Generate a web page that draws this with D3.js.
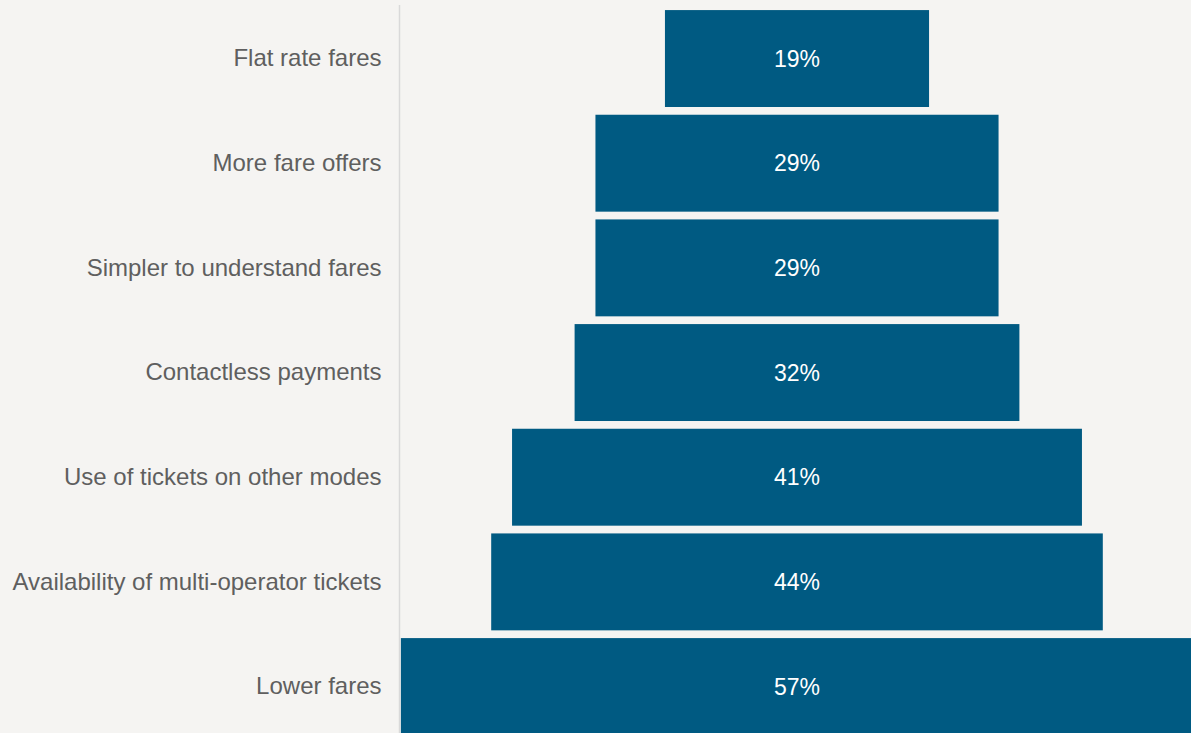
<!DOCTYPE html>
<html>
<head>
<meta charset="utf-8">
<script src="https://cdn.jsdelivr.net/npm/d3@7"></script>
<style>
  html, body { margin: 0; padding: 0; background: #f5f4f2; }
  svg { display: block; }
</style>
</head>
<body>
<svg id="chart" width="1191" height="733"></svg>
<script>
const categories = [
  "Flat rate fares",
  "More fare offers",
  "Simpler to understand fares",
  "Contactless payments",
  "Use of tickets on other modes",
  "Availability of multi-operator tickets",
  "Lower fares"
];
const values = [19, 29, 29, 32, 41, 44, 57];
const valueLabels = ["19%", "29%", "29%", "32%", "41%", "44%", "57%"];

const W = 1191, H = 733;
const svg = d3.select("#chart");
svg.append("rect").attr("width", W).attr("height", H).attr("fill", "#f5f4f2");

const centerX = 797;
const axisX = 399.5;

const y = d3.scaleBand()
  .domain(categories)
  .range([6.2, 6.2 + 7 * 104.67])
  .paddingInner(0.074)
  .paddingOuter(0.037);

const w = d3.scaleLinear().domain([0, 1]).range([0, 13.9]);

const data = categories.map((c, i) => ({ c, v: values[i], l: valueLabels[i] }));

svg.append("g").selectAll("rect").data(data).join("rect")
  .attr("x", d => centerX - w(d.v) / 2)
  .attr("y", d => y(d.c))
  .attr("width", d => w(d.v))
  .attr("height", y.bandwidth())
  .attr("fill", "#005a82");

svg.append("g").selectAll("text").data(data).join("text")
  .attr("x", centerX)
  .attr("y", d => y(d.c) + y.bandwidth() / 2)
  .attr("dy", "0.36em")
  .attr("text-anchor", "middle")
  .attr("fill", "#ffffff")
  .style("font-family", "'Liberation Sans', Arial, sans-serif")
  .style("font-size", "23px")
  .text(d => d.l);

// category axis
const axis = svg.append("g").attr("transform", `translate(${axisX},0)`)
  .call(d3.axisLeft(y).tickSize(0).tickPadding(18));
axis.select(".domain").remove();
axis.selectAll("text")
  .attr("fill", "#5f5f5f")
  .attr("dy", "0.36em")
  .attr("y", -1)
  .style("font-family", "'Liberation Sans', Arial, sans-serif")
  .style("font-size", "24px");

svg.append("line")
  .attr("x1", axisX).attr("x2", axisX)
  .attr("y1", 5).attr("y2", H)
  .attr("stroke", "#d9d9d9").attr("stroke-width", 1.5);
</script>
</body>
</html>
